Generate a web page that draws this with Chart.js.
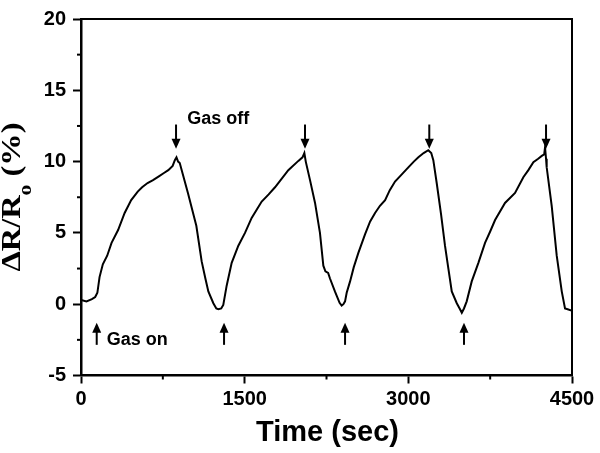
<!DOCTYPE html>
<html>
<head>
<meta charset="utf-8">
<script src="https://cdn.jsdelivr.net/npm/chart.js@4.4.1/dist/chart.umd.min.js"></script>
<style>
  html, body { margin: 0; padding: 0; background: #fff; }
  canvas { display: block; }
</style>
</head>
<body>
<canvas id="sensorChart" width="600" height="453"></canvas>
<script>
// response curve (time in sec, dR/R0 in %)
const timeSec = [
  0, 50, 100, 130, 150, 170, 200, 240, 280, 340, 400, 460, 520, 560, 610, 660, 710, 760, 800, 840, 860, 875, 890, 905,
  980, 1057, 1106, 1140, 1167, 1213, 1240, 1259, 1285, 1304, 1335, 1381, 1442, 1503, 1564, 1656, 1720, 1778, 1840, 1900,
  1992, 2030, 2047, 2060, 2099, 2145, 2190, 2221, 2240, 2265, 2282, 2328, 2370, 2389, 2405, 2420, 2435, 2466, 2500, 2542,
  2603, 2650, 2695, 2740, 2787, 2830, 2878, 2940, 3000, 3050, 3092, 3140, 3183, 3210, 3229, 3260, 3300, 3336, 3367, 3398,
  3444, 3470, 3490, 3510, 3535, 3581, 3642, 3703, 3750, 3795, 3886, 3978, 4054, 4100, 4146, 4190, 4223, 4245, 4253, 4262,
  4268, 4314, 4360, 4406, 4436, 4460, 4497
];
const deltaR = [
  0.3, 0.2, 0.35, 0.5, 0.8, 1.9, 2.8, 3.4, 4.3, 5.2, 6.4, 7.3, 7.9, 8.2, 8.5, 8.7, 8.95, 9.2, 9.4, 9.7, 10.1, 10.3, 10.0, 9.9,
  7.8, 5.5, 3.0, 1.8, 0.9, 0.07, -0.3, -0.35, -0.3, -0.05, 1.3, 2.9, 4.1, 5.0, 6.05, 7.2, 7.7, 8.2, 8.8, 9.4,
  10.05, 10.3, 10.6, 10.0, 8.7, 7.1, 5.0, 2.7, 2.3, 2.2, 1.8, 0.88, 0.1, -0.1, 0.0, 0.2, 0.8, 1.6, 2.6, 3.6,
  4.9, 5.8, 6.4, 6.9, 7.3, 8.0, 8.6, 9.1, 9.6, 10.0, 10.3, 10.6, 10.8, 10.6, 10.1, 8.5, 6.3, 4.1, 2.5, 0.9,
  0.07, -0.3, -0.6, -0.3, 0.2, 1.6, 2.9, 4.3, 5.1, 5.9, 7.1, 7.8, 8.9, 9.4, 9.96, 10.2, 10.4, 10.5, 11.0, 10.2,
  9.6, 6.9, 3.4, 0.9, -0.3, -0.35, -0.45
];
const gasOffTimes = [871, 2053, 3192, 4262];
const gasOnTimes = [144, 1311, 2420, 3510];
const xTicks = [0, 1500, 3000, 4500];
const yTicks = [-5, 0, 5, 10, 15, 20];

const tickFont = { family: "'Liberation Sans', Arial, sans-serif", size: 20, weight: "bold" };

// frame, minor ticks, arrows, labels and the y title
const extrasPlugin = {
  id: "extras",
  afterDraw(chart) {
    const ctx = chart.ctx;
    const a = chart.chartArea;
    const xs = chart.scales.x;
    const ys = chart.scales.y;

    ctx.save();
    ctx.strokeStyle = "#000";
    ctx.fillStyle = "#000";

    // top + right border
    ctx.lineWidth = 2;
    ctx.beginPath();
    ctx.moveTo(a.left, a.top);
    ctx.lineTo(a.right, a.top);
    ctx.lineTo(a.right, a.bottom);
    ctx.stroke();

    // minor ticks halfway between majors
    ctx.lineWidth = 2;
    for (let i = 0; i < xTicks.length - 1; i++) {
      const px = xs.getPixelForValue((xTicks[i] + xTicks[i + 1]) / 2);
      ctx.beginPath();
      ctx.moveTo(px, a.bottom);
      ctx.lineTo(px, a.bottom + 4);
      ctx.stroke();
    }
    for (let i = 0; i < yTicks.length - 1; i++) {
      const py = ys.getPixelForValue((yTicks[i] + yTicks[i + 1]) / 2);
      ctx.beginPath();
      ctx.moveTo(a.left, py);
      ctx.lineTo(a.left - 4, py);
      ctx.stroke();
    }

    // arrows
    function arrow(t, from, to) {
      const px = xs.getPixelForValue(t);
      const y1 = ys.getPixelForValue(from);
      const y2 = ys.getPixelForValue(to);
      const dir = y2 > y1 ? 1 : -1;
      ctx.lineWidth = 2;
      ctx.beginPath();
      ctx.moveTo(px, y1);
      ctx.lineTo(px, y2 - dir * 6);
      ctx.stroke();
      ctx.beginPath();
      ctx.moveTo(px, y2);
      ctx.lineTo(px - 4.5, y2 - dir * 10);
      ctx.lineTo(px + 4.5, y2 - dir * 10);
      ctx.closePath();
      ctx.fill();
    }
    gasOffTimes.forEach((t) => arrow(t, 12.6, 10.9));
    gasOnTimes.forEach((t) => arrow(t, -2.85, -1.3));

    ctx.font = "bold 18px 'Liberation Sans', Arial, sans-serif";
    ctx.textBaseline = "middle";
    ctx.textAlign = "left";
    ctx.fillText("Gas off", xs.getPixelForValue(974), ys.getPixelForValue(13.0));
    ctx.fillText("Gas on", xs.getPixelForValue(236), ys.getPixelForValue(-2.5));

    // x title
    ctx.font = "bold 29px 'Liberation Sans', Arial, sans-serif";
    ctx.textAlign = "center";
    ctx.fillText("Time (sec)", (a.left + a.right) / 2 + 1, 433);

    // y title with subscript
    const big = "bold 27px 'Liberation Serif', 'Times New Roman', serif";
    const small = "bold 18px 'Liberation Serif', 'Times New Roman', serif";
    ctx.translate(11, 197);
    ctx.rotate(-Math.PI / 2);
    ctx.scale(1.2, 1);
    ctx.textAlign = "left";
    ctx.textBaseline = "alphabetic";
    ctx.font = big;
    const w1 = ctx.measureText("\u0394R/R").width;
    const w3 = ctx.measureText(" (%)").width;
    ctx.font = small;
    const w2 = ctx.measureText("o").width;
    let x0 = -(w1 + w2 + w3) / 2;
    ctx.font = big;
    ctx.fillText("\u0394R/R", x0, 8.5);
    ctx.font = small;
    ctx.fillText("o", x0 + w1, 19.5);
    ctx.font = big;
    ctx.fillText(" (%)", x0 + w1 + w2, 8.5);

    ctx.restore();
  }
};

new Chart(document.getElementById("sensorChart"), {
  type: "line",
  data: {
    datasets: [
      {
        data: timeSec.map((t, i) => ({ x: t, y: deltaR[i] })),
        borderColor: "#000",
        borderWidth: 2,
        pointRadius: 0,
        tension: 0,
        fill: false,
      },
    ],
  },
  options: {
    responsive: false,
    animation: false,
    layout: { padding: { top: 12.7, right: 28, left: 0, bottom: 0 } },
    plugins: {
      legend: { display: false },
      tooltip: { enabled: false },
    },
    scales: {
      x: {
        type: "linear",
        min: 0,
        max: 4500,
        afterBuildTicks: (scale) => { scale.ticks = xTicks.map((v) => ({ value: v })); },
        afterFit: (scale) => { scale.height = 77.5; },
        ticks: { color: "#000", font: tickFont, padding: 4, maxRotation: 0, callback: (v) => String(v) },
        grid: { drawOnChartArea: false, tickLength: 8, tickColor: "#000", tickWidth: 2 },
        border: { color: "#000", width: 2.5 },
      },
      y: {
        min: -5,
        max: 20,
        afterBuildTicks: (scale) => { scale.ticks = yTicks.map((v) => ({ value: v })); },
        afterFit: (scale) => { scale.width = 81; },
        ticks: { color: "#000", font: tickFont, padding: 7, callback: (v) => String(v) },
        grid: { drawOnChartArea: false, tickLength: 8, tickColor: "#000", tickWidth: 2 },
        border: { color: "#000", width: 2.5 },
      },
    },
  },
  plugins: [extrasPlugin],
});
</script>
</body>
</html>
